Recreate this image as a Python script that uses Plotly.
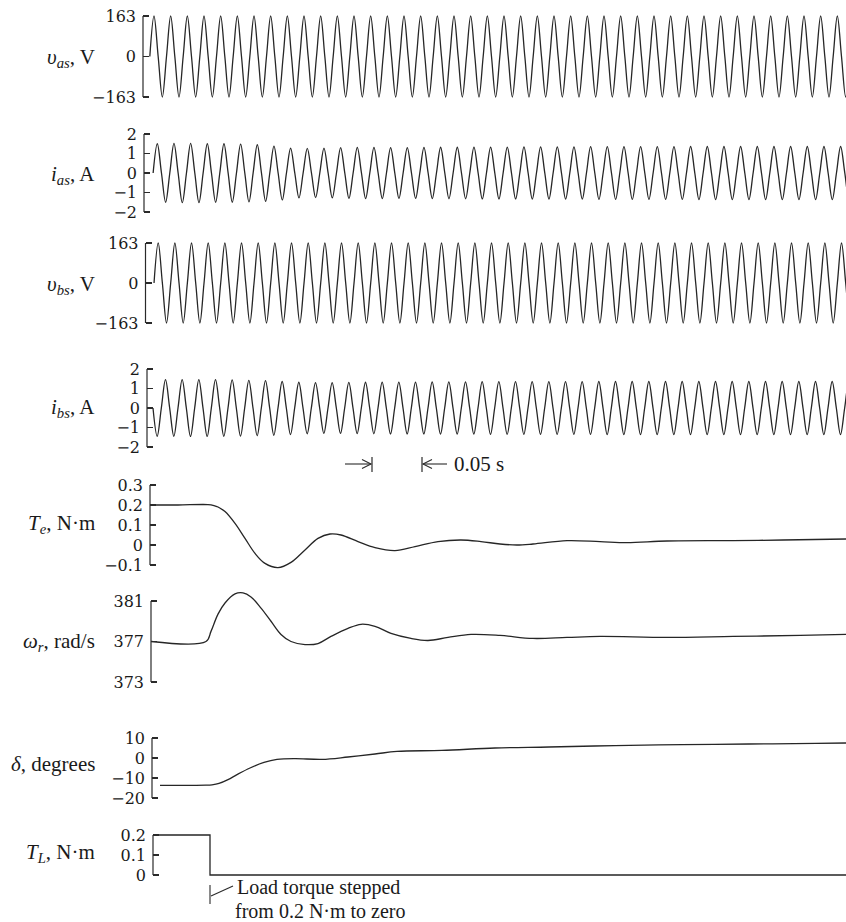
import plotly.graph_objects as go

# ---------------- data ----------------
F_HZ = 60.0                 # supply frequency
V_PEAK = 163.0              # peak phase voltage (V)

# first positive peak of each sinusoid (ms after the panel's axis) and the
# lead of the first drawn point before it (ms)
vas_first_peak_ms, vas_lead_ms = 11.0, 4.2
ias_first_peak_ms, ias_lead_ms = 13.3, 8.3
vbs_first_peak_ms, vbs_lead_ms = 12.7, 8.3
ibs_first_peak_ms, ibs_lead_ms = 18.5, 12.5

# per-cycle peak amplitudes (A)
ias_amp = [1.50, 1.52, 1.52, 1.50, 1.50, 1.48, 1.45, 1.38, 1.28, 1.26, 1.28, 1.30,
           1.31, 1.31, 1.30, 1.30, 1.31, 1.32, 1.32, 1.33, 1.33, 1.33, 1.34, 1.34,
           1.34, 1.34, 1.35, 1.35, 1.35, 1.35, 1.35, 1.35, 1.36, 1.36, 1.36, 1.36,
           1.36, 1.36, 1.36, 1.36, 1.36, 1.36, 1.36]
ibs_amp = [1.45, 1.46, 1.46, 1.45, 1.44, 1.42, 1.40, 1.36, 1.32, 1.30, 1.30, 1.31,
           1.32, 1.33, 1.33, 1.33, 1.34, 1.34, 1.34, 1.35, 1.35, 1.35, 1.35, 1.35,
           1.35, 1.35, 1.36, 1.36, 1.36, 1.36, 1.36, 1.36, 1.36, 1.36, 1.36, 1.36,
           1.36, 1.36, 1.36, 1.36, 1.36, 1.36, 1.36]
vas_amp = [V_PEAK] * 43
vbs_amp = [V_PEAK] * 43

# electromagnetic torque T_e (N·m)
te_t = [0, 28, 58, 64, 68, 75, 85, 95, 105, 115, 128, 141, 155, 168, 180, 191, 208,
        225, 245, 265, 288, 311, 331, 350, 367, 383, 417, 450, 477, 517, 583, 633, 696]
te_v = [0.200, 0.200, 0.202, 0.197, 0.190, 0.167, 0.108, 0.033, -0.042, -0.092,
        -0.113, -0.087, -0.025, 0.033, 0.055, 0.050, 0.017, -0.013, -0.028, -0.008,
        0.017, 0.025, 0.017, 0.005, 0.000, 0.005, 0.022, 0.017, 0.012, 0.020, 0.022,
        0.025, 0.030]

# rotor speed ω_r (rad/s)
wr_t = [0, 55, 60, 67, 74, 84, 92, 100, 110, 120, 130, 140, 154, 167, 180, 197, 210,
        224, 240, 260, 277, 297, 320, 349, 382, 416, 449, 516, 582, 649, 695]
wr_v = [377.0, 377.0, 378.0, 379.7, 380.8, 381.7, 381.8, 381.4, 380.3, 379.0, 377.7,
        377.0, 376.7, 376.8, 377.5, 378.3, 378.7, 378.5, 377.8, 377.3, 377.1, 377.4,
        377.7, 377.6, 377.3, 377.4, 377.5, 377.4, 377.5, 377.6, 377.7]

# rotor angle δ (degrees)
dl_t = [8, 16, 36, 54, 60, 67, 76, 85, 98, 112, 125, 143, 170, 196, 223, 245, 290,
        343, 397, 463, 530, 597, 664, 694]
dl_v = [-13.7, -13.7, -13.7, -13.6, -13.4, -12.7, -10.8, -8.3, -5.0, -2.2, -0.7, -0.3,
        -0.7, 0.5, 2.0, 3.3, 3.8, 5.0, 5.5, 6.2, 6.7, 7.0, 7.3, 7.5]

# load torque T_L (N·m), stepped from 0.2 to zero
tl_t = [0, 57, 57, 693]
tl_v = [0.2, 0.2, 0.0, 0.0]

# panels: axis x (px), top px, bottom px, vmin, vmax, tick values, tick labels, pad px
panels = [
    (143, 16, 97, -163, 163, [-163, 0, 163], ["\u2212163", "0", "163"], 5),
    (144, 134, 212, -2, 2, [-2, -1, 0, 1, 2], ["\u22122", "\u22121", "0", "1", "2"], 5),
    (145.5, 243, 323, -163, 163, [-163, 0, 163], ["\u2212163", "0", "163"], 5),
    (147, 369, 447, -2, 2, [-2, -1, 0, 1, 2], ["\u22122", "\u22121", "0", "1", "2"], 5),
    (150, 485, 565, -0.1, 0.3, [-0.1, 0, 0.1, 0.2, 0.3],
     ["\u22120.1", "0", "0.1", "0.2", "0.3"], 5),
    (151, 601, 682, 373, 381, [373, 377, 381], ["373", "377", "381"], 12),
    (152, 738, 798, -20, 10, [-20, -10, 0, 10], ["\u221220", "\u221210", "0", "10"], 5),
    (153, 835, 875, 0, 0.2, [0, 0.1, 0.2], ["0", "0.1", "0.2"], 5),
]
labels = [
    ("<i>\u03c5</i><sub><i>as</i></sub>, V", 58),
    ("<i>i</i><sub><i>as</i></sub>, A", 175),
    ("<i>\u03c5</i><sub><i>bs</i></sub>, V", 285),
    ("<i>i</i><sub><i>bs</i></sub>, A", 408),
    ("<i>T</i><sub><i>e</i></sub>, N\u00b7m", 524),
    ("<i>\u03c9</i><sub><i>r</i></sub>, rad/s", 642),
    ("<i>\u03b4</i>, degrees", 764),
    ("<i>T</i><sub><i>L</i></sub>, N\u00b7m", 853),
]

# ---------------- figure ----------------
W, H = 846, 922
FONT = "Liberation Serif, Times New Roman, serif"
TICK_FONT = "DejaVu Serif, Liberation Serif, serif"
FS = 21
TFS = 16
LINE = "#262626"
AX = "#2a2a2a"


def px(x):
    return x / W


def py(y):
    return 1 - y / H


def wave_points(first_peak_ms, lead_ms, amps, t_end_ms):
    half = 1000.0 / F_HZ / 2.0
    quarter = half / 2.0
    t_start = first_peak_ms - lead_ms - 1e-6
    ts, vs = [], []
    k = -2
    while True:
        tp = first_peak_ms + k * half
        if tp - quarter > t_end_ms + half:
            break
        cyc = min(max(k // 2, 0), len(amps) - 1)
        sign = 1.0 if k % 2 == 0 else -1.0
        for t, v in ((tp - quarter, 0.0), (tp, sign * amps[cyc])):
            if t >= t_start:
                ts.append(t / 1000.0)
                vs.append(v)
        k += 1
    return ts, vs


def ms(lst):
    return [v / 1000.0 for v in lst]


fig = go.Figure()
layout = dict(
    width=W, height=H,
    margin=dict(l=0, r=0, t=0, b=0, pad=0),
    paper_bgcolor="white", plot_bgcolor="white",
    showlegend=False, template="none",
    font=dict(family=FONT, size=FS, color="#1a1a1a"),
)
shapes = []
annotations = []

waves = [
    (vas_first_peak_ms, vas_lead_ms, vas_amp),
    (ias_first_peak_ms, ias_lead_ms, ias_amp),
    (vbs_first_peak_ms, vbs_lead_ms, vbs_amp),
    (ibs_first_peak_ms, ibs_lead_ms, ibs_amp),
]
others = [(ms(te_t), te_v), (ms(wr_t), wr_v), (ms(dl_t), dl_v), (ms(tl_t), tl_v)]

for i, (xa, top, bot, vmin, vmax, tv, tt, pad) in enumerate(panels):
    n = i + 1
    sfx = "" if n == 1 else str(n)
    t_end_ms = W - xa           # 1 px per millisecond
    if i < 4:
        xs, ys = wave_points(waves[i][0], waves[i][1], waves[i][2], t_end_ms)
    else:
        xs, ys = others[i - 4]
    ppu = (bot - top) / (vmax - vmin)
    dpad = pad / ppu
    layout["xaxis" + sfx] = dict(
        domain=[px(xa), 1], range=[0, t_end_ms / 1000.0], visible=False,
        anchor="y" + sfx, fixedrange=True)
    layout["yaxis" + sfx] = dict(
        domain=[py(bot + pad), py(top - pad)],
        range=[vmin - dpad, vmax + dpad],
        anchor="x" + sfx, tickmode="array", tickvals=tv, ticktext=tt,
        ticks="inside", ticklen=6, tickwidth=1.2, tickcolor=AX,
        showline=False, showgrid=False, zeroline=False, automargin=False,
        tickfont=dict(family=TICK_FONT, size=TFS, color="#1a1a1a"),
        ticklabelstandoff=6, fixedrange=True,
    )
    shapes.append(dict(type="line", xref="paper", yref="y" + sfx,
                       x0=px(xa), x1=px(xa), y0=vmin, y1=vmax,
                       line=dict(color=AX, width=1.2)))
    spline = n != 8
    fig.add_trace(go.Scatter(
        x=xs, y=ys, mode="lines", xaxis="x" + sfx, yaxis="y" + sfx,
        line=dict(color=LINE, width=1.3, shape="spline" if spline else "linear",
                  smoothing=1.0 if spline else None),
        hoverinfo="skip"))

for text, ypx in labels:
    annotations.append(dict(text=text, xref="paper", yref="paper",
                            x=px(97), y=py(ypx), xanchor="right",
                            yanchor="middle", showarrow=False,
                            font=dict(family=FONT, size=FS, color="#1a1a1a")))


def seg(x0, y0, x1, y1, w=1.1):
    shapes.append(dict(type="line", xref="paper", yref="paper",
                       x0=px(x0), y0=py(y0), x1=px(x1), y1=py(y1),
                       line=dict(color=AX, width=w)))


def head(xt, y, direction):
    # open "V" arrowhead whose tip is at (xt, y)
    back = xt - 9 * direction
    shapes.append(dict(type="path", xref="paper", yref="paper",
                       path=f"M {px(back)},{py(y - 4.5)} L {px(xt)},{py(y)} "
                            f"L {px(back)},{py(y + 4.5)}",
                       line=dict(color=AX, width=1.1)))


# 0.05 s scale marker
YM = 464
seg(372, 457, 372, 472, 1.2)
seg(422, 457, 422, 472, 1.2)
seg(345, YM, 371, YM)
head(371, YM, +1)
seg(447, YM, 423, YM)
head(423, YM, -1)
annotations.append(dict(x=px(452), y=py(YM), xref="paper", yref="paper",
                        text="0.05 s", showarrow=False, xanchor="left",
                        yanchor="middle", font=dict(family=FONT, size=FS)))

# load torque step note
seg(210, 885, 210, 904)
seg(211, 896, 233, 886)
annotations.append(dict(x=px(235), y=py(887), xref="paper", yref="paper",
                        text="Load torque stepped", showarrow=False, xanchor="left",
                        yanchor="middle", font=dict(family=FONT, size=20)))
annotations.append(dict(x=px(233), y=py(911), xref="paper", yref="paper",
                        text="from 0.2 N\u00b7m to zero", showarrow=False,
                        xanchor="left", yanchor="middle",
                        font=dict(family=FONT, size=20)))

layout["shapes"] = shapes
layout["annotations"] = annotations
fig.update_layout(**layout)
fig.write_html("out.html",
               config={"displayModeBar": False, "staticPlot": True},
               post_script="document.body.style.margin='0px';"
                           "document.body.style.overflow='hidden';")
